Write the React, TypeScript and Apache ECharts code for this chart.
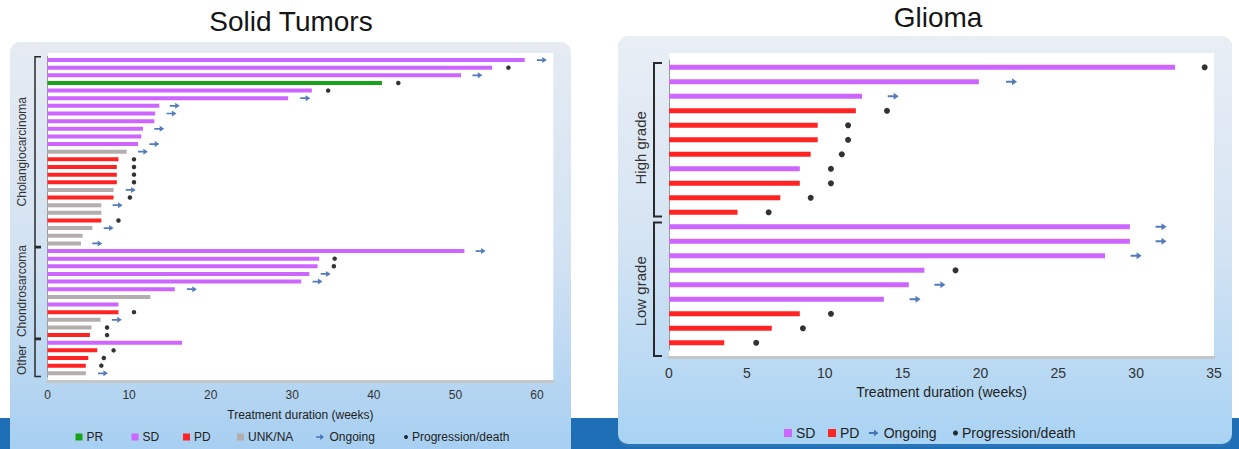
import React, { useEffect, useRef } from 'react';
import * as echarts from 'echarts';

const FONT = '"Liberation Sans", Arial, Helvetica, sans-serif';
const W = 1239;
const H = 449;

// ---------- Solid tumors (weeks) ----------
const solidDuration = [58.5, 54.5, 50.7, 41.0, 32.4, 29.5, 13.7, 13.2, 13.1, 11.7, 11.5, 11.1, 9.7, 8.7, 8.5, 8.5, 8.5, 8.1, 8.1, 6.6, 6.6, 6.6, 5.5, 4.3, 4.1, 51.1, 33.3, 33.1, 32.1, 31.1, 15.6, 12.6, 8.7, 8.7, 6.5, 5.4, 5.2, 16.5, 6.1, 5.0, 4.7, 4.7];
const solidResponse = ['SD', 'SD', 'SD', 'PR', 'SD', 'SD', 'SD', 'SD', 'SD', 'SD', 'SD', 'SD', 'UNK/NA', 'PD', 'PD', 'PD', 'PD', 'UNK/NA', 'PD', 'UNK/NA', 'UNK/NA', 'PD', 'UNK/NA', 'UNK/NA', 'UNK/NA', 'SD', 'SD', 'SD', 'SD', 'SD', 'SD', 'UNK/NA', 'SD', 'PD', 'UNK/NA', 'UNK/NA', 'PD', 'SD', 'PD', 'PD', 'PD', 'UNK/NA'];
const solidEvent = ['O', 'D', 'O', 'D', 'D', 'O', 'O', 'O', '', 'O', '', 'O', 'O', 'D', 'D', 'D', 'D', 'O', 'D', 'O', '', 'D', 'O', '', 'O', 'O', 'D', 'D', 'O', 'O', 'O', '', '', 'D', 'O', 'D', 'D', '', 'D', 'D', 'D', 'O'];
const solidEventAt = [60.6, 56.5, 52.7, 43.0, 34.4, 31.6, 15.6, 15.2, null, 13.7, null, 13.1, 11.7, 10.6, 10.6, 10.6, 10.6, 10.2, 10.1, 8.6, null, 8.7, 7.5, null, 6.1, 53.1, 35.2, 35.1, 34.1, 33.1, 17.7, null, null, 10.6, 8.5, 7.3, 7.3, null, 8.1, 6.9, 6.6, 6.8];
const solidPatients = solidDuration.map((_, i) => `ST${i + 1}`);
const solidGroups = [
  { name: 'Cholangiocarcinoma', from: 0, to: 24, dy: 0 },
  { name: 'Chondrosarcoma', from: 25, to: 36, dy: -2 },
  { name: 'Other', from: 37, to: 41, dy: 2 },
];

// ---------- Glioma (weeks) ----------
const gliomaDuration = [32.5, 19.9, 12.4, 12.0, 9.55, 9.55, 9.1, 8.4, 8.4, 7.15, 4.4, 29.6, 29.6, 28.0, 16.4, 15.4, 13.8, 8.4, 6.6, 3.55];
const gliomaResponse = ['SD', 'SD', 'SD', 'PD', 'PD', 'PD', 'PD', 'SD', 'PD', 'PD', 'PD', 'SD', 'SD', 'SD', 'SD', 'SD', 'SD', 'PD', 'PD', 'PD'];
const gliomaEvent = ['D', 'O', 'O', 'D', 'D', 'D', 'D', 'D', 'D', 'D', 'D', 'O', 'O', 'O', 'D', 'O', 'O', 'D', 'D', 'D'];
const gliomaEventAt = [34.4, 22.0, 14.4, 14.0, 11.5, 11.5, 11.1, 10.4, 10.4, 9.1, 6.4, 31.6, 31.6, 30.0, 18.4, 17.4, 15.8, 10.4, 8.6, 5.6];
const gliomaPatients = gliomaDuration.map((_, i) => `G${i + 1}`);
const gliomaGroups = [
  { name: 'High grade', from: 0, to: 10, dy: 8 },
  { name: 'Low grade', from: 11, to: 19, dy: 2 },
];

const STATUSES = ['PR', 'SD', 'PD', 'UNK/NA'];
const COLORS: Record<string, string> = {
  PR: '#19a319',
  SD: '#cc66ff',
  PD: '#ff2424',
  'UNK/NA': '#b4adad',
};
const ARROW_COLOR = '#2b5ba9';
const ARROW = 'path://M0,3.2 L6.5,3.2 L6.5,0 L12,4.5 L6.5,9 L6.5,5.8 L0,5.8 Z';

// layout of the two plots (pixels)
const LP = { left: 47.5, right: 553.3, top: 56.2, bottom: 377.1, axisY: 381, max: 62, interval: 10 };
const RP = { left: 669, right: 1214, top: 60.05, bottom: 350.05, axisY: 357, max: 35, interval: 5 };

function rowTop(P: any, n: number, i: number) {
  return P.top + (i * (P.bottom - P.top)) / n;
}

function buildBrackets(P: any, n: number, groups: any[], bx: number, tick: number, pad: number, lastExtend: number, labelX: number, fontSize: number, lw: number) {
  const els: any[] = [];
  groups.forEach((g, gi) => {
    const y0 = rowTop(P, n, g.from) + pad;
    let y1 = rowTop(P, n, g.to + 1) - pad;
    if (gi === groups.length - 1) y1 += lastExtend;
    els.push({
      type: 'polyline',
      z: 5,
      silent: true,
      shape: { points: [[bx + tick, y0], [bx, y0], [bx, y1], [bx + tick, y1]] },
      style: { stroke: '#2a2a2a', lineWidth: lw, fill: null },
    });
    els.push({
      type: 'text',
      z: 5,
      silent: true,
      x: labelX,
      y: (y0 + y1) / 2 + g.dy,
      rotation: Math.PI / 2,
      style: {
        text: g.name,
        fontSize,
        fontFamily: FONT,
        fill: '#333',
        align: 'center',
        verticalAlign: 'middle',
      },
    });
  });
  return els;
}

function barSeries(durations: number[], responses: string[], idx: number, width: number) {
  return STATUSES.filter((s) => responses.includes(s)).map((s) => ({
    type: 'bar',
    name: s,
    xAxisIndex: idx,
    yAxisIndex: idx,
    barWidth: width,
    barGap: '-100%',
    silent: true,
    itemStyle: { color: COLORS[s] },
    data: durations.map((d, i) => (responses[i] === s ? d : '-')),
  }));
}

function eventSeries(events: string[], at: (number | null)[], idx: number, arrowSize: number[], dotSize: number) {
  const ongoing: any[] = [];
  const death: any[] = [];
  events.forEach((e, i) => {
    if (e === 'O') ongoing.push([at[i], i]);
    if (e === 'D') death.push([at[i], i]);
  });
  return [
    {
      type: 'scatter',
      name: 'Ongoing',
      xAxisIndex: idx,
      yAxisIndex: idx,
      symbol: ARROW,
      symbolSize: arrowSize,
      itemStyle: { color: ARROW_COLOR },
      silent: true,
      data: ongoing,
      z: 4,
    },
    {
      type: 'scatter',
      name: 'Progression/death',
      xAxisIndex: idx,
      yAxisIndex: idx,
      symbol: 'circle',
      symbolSize: dotSize,
      itemStyle: { color: '#000' },
      silent: true,
      data: death,
      z: 4,
    },
  ];
}

function xAxisOpt(P: any, idx: number, fontSize: number, margin: number, nameGap: number) {
  return {
    type: 'value',
    gridIndex: idx,
    min: 0,
    max: P.max,
    interval: P.interval,
    offset: P.axisY - P.bottom,
    axisLine: { show: true, lineStyle: { color: '#c6c6c6', width: 3 } },
    axisTick: { show: false },
    splitLine: { show: false },
    axisLabel: {
      fontSize,
      color: '#333',
      fontFamily: FONT,
      margin,
      formatter: (v: number) => (v % P.interval === 0 ? String(v) : ''),
    },
    name: 'Treatment duration (weeks)',
    nameLocation: 'middle',
    nameGap,
    nameTextStyle: { fontSize, color: '#222', fontFamily: FONT },
  };
}

function yAxisOpt(idx: number, cats: string[]) {
  return {
    type: 'category',
    gridIndex: idx,
    inverse: true,
    data: cats,
    axisLine: { show: true, lineStyle: { color: '#9a9a9a', width: 1 } },
    axisTick: { show: false },
    axisLabel: { show: false },
    splitLine: { show: false },
  };
}

function legendItem(name: string, icon: string, left: number, top: number, w: number, h: number, fontSize: number, lineHeight: number) {
  return {
    show: true,
    left,
    top,
    padding: 0,
    itemGap: 0,
    itemWidth: w,
    itemHeight: h,
    selectedMode: false,
    data: [{ name, icon }],
    textStyle: { fontSize, color: '#222', fontFamily: FONT, lineHeight, padding: [0, 0, 0, -1] },
  };
}

const leftGrad = {
  type: 'linear', x: 0, y: 0, x2: 0, y2: 1,
  colorStops: [
    { offset: 0, color: '#e6ebf3' },
    { offset: 0.5, color: '#d2e2f2' },
    { offset: 1, color: '#a2cdf1' },
  ],
};
const rightGrad = {
  type: 'linear', x: 0, y: 0, x2: 0, y2: 1,
  colorStops: [
    { offset: 0, color: '#e9eef5' },
    { offset: 0.5, color: '#d5e4f3' },
    { offset: 1, color: '#a9d3f3' },
  ],
};

export default function App() {
  const ref = useRef<HTMLDivElement>(null);

  useEffect(() => {
    if (!ref.current) return;
    const chart = echarts.init(ref.current, undefined, { renderer: 'svg' });

    const graphic: any[] = [
      { type: 'rect', z: -10, silent: true, shape: { x: 0, y: 418, width: W, height: 31 }, style: { fill: '#1f6fb6' } },
      { type: 'rect', z: -9, silent: true, shape: { x: 10, y: 42, width: 561, height: 430, r: 10 }, style: { fill: leftGrad } },
      { type: 'rect', z: -9, silent: true, shape: { x: 618, y: 38, width: 614, height: 409, r: 10 }, style: { fill: '#2a74b8' } },
      { type: 'rect', z: -8, silent: true, shape: { x: 618, y: 36, width: 614, height: 408, r: 10 }, style: { fill: rightGrad } },
      { type: 'rect', z: -7, silent: true, shape: { x: 48, y: 53, width: LP.right - 48, height: LP.axisY - 53 }, style: { fill: '#ffffff' } },
      { type: 'rect', z: -7, silent: true, shape: { x: RP.left, y: 53, width: RP.right - RP.left, height: RP.axisY - 53 }, style: { fill: '#ffffff' } },
      {
        type: 'text', z: 5, silent: true, x: 291, y: 21,
        style: { text: 'Solid Tumors', fontSize: 28, fontFamily: FONT, fill: '#151515', align: 'center', verticalAlign: 'middle' },
      },
      {
        type: 'text', z: 5, silent: true, x: 938, y: 17,
        style: { text: 'Glioma', fontSize: 28, fontFamily: FONT, fill: '#151515', align: 'center', verticalAlign: 'middle' },
      },
      ...buildBrackets(LP, solidDuration.length, solidGroups, 35, 6, 0.6, 0, 22, 12, 1.5),
      ...buildBrackets(RP, gliomaDuration.length, gliomaGroups, 654, 8, 3, 9, 640, 15, 2),
    ];

    const option: any = {
      animation: false,
      textStyle: { fontFamily: FONT },
      graphic,
      grid: [
        { left: LP.left, top: LP.top, width: LP.right - LP.left, height: LP.bottom - LP.top },
        { left: RP.left, top: RP.top, width: RP.right - RP.left, height: RP.bottom - RP.top },
      ],
      xAxis: [xAxisOpt(LP, 0, 12, 8, 28), xAxisOpt(RP, 1, 14, 9, 27)],
      yAxis: [yAxisOpt(0, solidPatients), yAxisOpt(1, gliomaPatients)],
      legend: [
        legendItem('PR', 'rect', 75.5, 430, 7, 7, 12, 14),
        legendItem('SD', 'rect', 131.5, 430, 7, 7, 12, 14),
        legendItem('PD', 'rect', 183, 430, 7, 7, 12, 14),
        legendItem('UNK/NA', 'rect', 237, 430, 7, 7, 12, 14),
        legendItem('Ongoing', ARROW, 316, 430, 11, 6, 12, 14),
        legendItem('Progression/death', 'circle', 404, 430, 4, 4, 12, 14),
        legendItem('SD', 'rect', 784, 425, 8, 8, 14, 16),
        legendItem('PD', 'rect', 828, 425, 8, 8, 14, 16),
        legendItem('Ongoing', ARROW, 869, 425, 12, 7, 14, 16),
        legendItem('Progression/death', 'circle', 953, 425, 5, 5, 14, 16),
      ],
      series: [
        ...barSeries(solidDuration, solidResponse, 0, 4),
        ...eventSeries(solidEvent, solidEventAt, 0, [10, 6], 4.5),
        ...barSeries(gliomaDuration, gliomaResponse, 1, 5),
        ...eventSeries(gliomaEvent, gliomaEventAt, 1, [11, 7], 6),
      ],
    };

    chart.setOption(option);
    return () => chart.dispose();
  }, []);

  return (
    <div
      ref={ref}
      style={{ position: 'absolute', left: 0, top: 0, width: W, height: H, background: '#ffffff' }}
    />
  );
}
